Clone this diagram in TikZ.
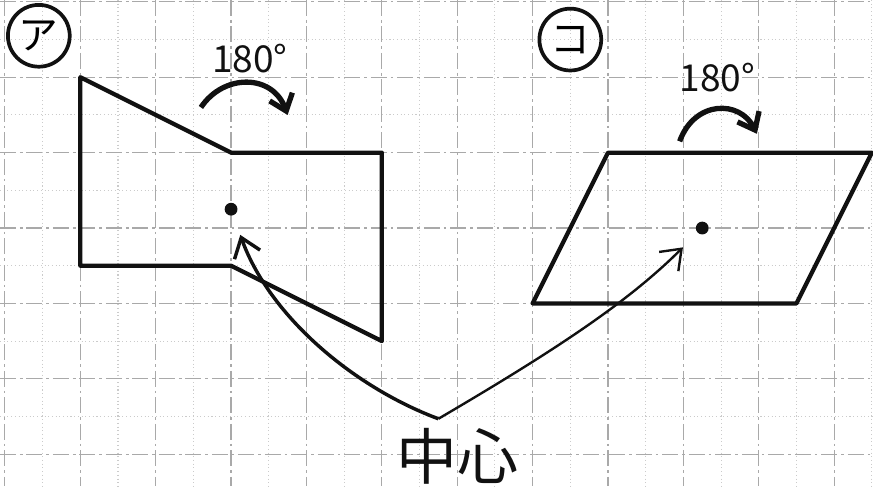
\documentclass[tikz,border=0pt]{standalone}
\usepackage{fontspec}
\usepackage{tikz}
\usetikzlibrary{arrows.meta,positioning}
\newfontfamily\jp{Noto Sans CJK JP}
\definecolor{inkc}{HTML}{111111}
\definecolor{gridc}{HTML}{8C8C8C}
\tikzset{
  shp/.style={line width=1.6pt,inkc,line join=round},
  rot/.style={-{Straight Barb[length=2mm,width=3.2mm]},line width=2pt,inkc},
  ln/.style={-{Straight Barb[length=2.4mm,width=3.6mm]},line width=1.3pt,inkc,shorten >=0.27cm},
  mk/.style={circle,fill=inkc,inner sep=0pt,minimum size=1.7mm},
  tag/.style={circle,draw=inkc,line width=1.4pt,minimum size=8.2mm,inner sep=0pt,font=\jp\fontsize{15}{15}\selectfont},
  deg/.style={font=\jp\fontsize{14}{14}\selectfont,text=inkc,inner sep=1pt}
}

\begin{document}
\begin{tikzpicture}[x=0.5cm,y=-0.5cm]
\useasboundingbox (-0.13,-0.05) rectangle (23.03,12.85);
\fill[white] (-0.13,-0.05) rectangle (23.03,12.85);
\foreach \i in {1,3,...,23} \draw[gridc!45,densely dotted,line width=0.4pt] (\i,-0.05)--(\i,12.85);
\foreach \j in {1,3,...,11} \draw[gridc!45,densely dotted,line width=0.4pt] (-0.13,\j)--(23.03,\j);
\foreach \i in {0,2,...,22} \draw[gridc!75,dash pattern=on 6pt off 1.5pt on 1pt off 1.5pt,line width=0.45pt] (\i,-0.05)--(\i,12.85);
\foreach \j in {0,2,...,12} \draw[gridc!75,dash pattern=on 6pt off 1.5pt on 1pt off 1.5pt,line width=0.45pt] (-0.13,\j)--(23.03,\j);

\node[tag] (tagA) at (0.9,0.9) {ア};
\node[tag] (tagB) at (15,1) {コ};

\draw[shp] (2,2)--(6,4)--(10,4)--(10,9)--(6,7)--(2,7)--cycle;
\draw[shp] (16,4)--(23,4)--(21,8)--(14,8)--cycle;

\node[mk] (dotA) at (6,5.5) {};
\node[mk] (dotB) at (18.5,6) {};

\node[deg] (degA) at (6.5,1.5) {180°};
\draw[rot] (5.2,2.8) .. controls (5.8,1.9) and (7.1,1.9) .. (7.5,3.0);
\node[deg] (degB) at (18.9,2.0) {180°};
\draw[rot] (17.9,3.7) .. controls (18.3,2.6) and (19.5,2.6) .. (19.95,3.5);

\node[font=\jp\fontsize{23}{23}\selectfont,text=inkc] (ctr) at (12,12.05) {中心};
\coordinate (v) at (11.5,11.06);
\draw[ln] (v) .. controls (9.2,10.2) and (7.0,8.3) .. (dotA);
\draw[ln,line width=0.9pt] (v) .. controls (14.5,9.3) and (16.5,8.0) .. (dotB);
\end{tikzpicture}
\end{document}
